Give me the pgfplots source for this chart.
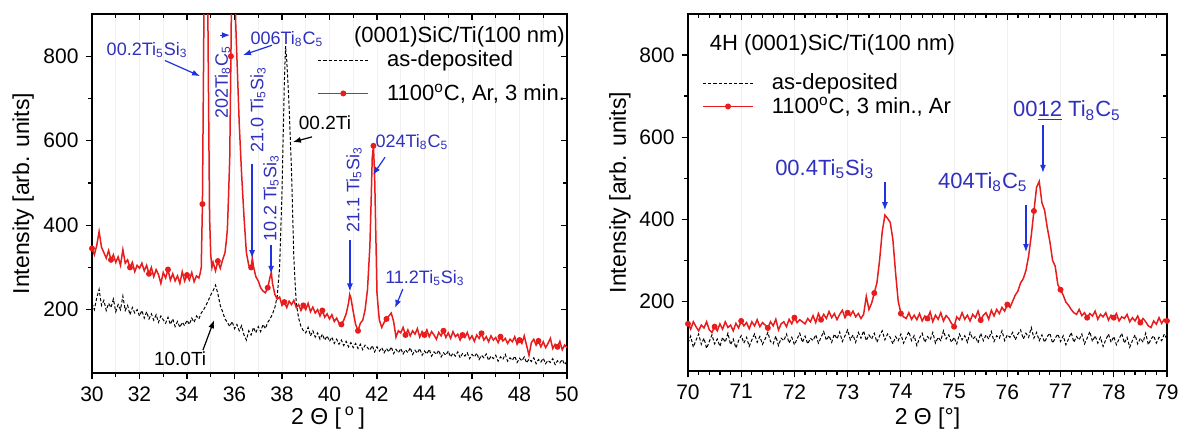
\documentclass[border=0pt]{standalone}
\usepackage{fontspec}
\setmainfont{Liberation Sans}
\usepackage{pgfplots}
\pgfplotsset{compat=1.18}
\usetikzlibrary{arrows.meta}

\definecolor{xred}{RGB}{232,28,28}
\definecolor{annot}{RGB}{48,48,190}
\definecolor{arrblue}{RGB}{30,50,225}

\tikzset{
  barrow/.style={arrblue, line width=0.6pt, -{Latex[length=4pt,width=3pt]}},
  karrow/.style={black, line width=0.6pt, -{Latex[length=4pt,width=3pt]}},
}
\pgfplotsset{
  xrd/.style={
    scale only axis,
    axis line style={line width=0.7pt},
    every tick/.style={black, line width=0.6pt},
    major tick length=3.2pt, minor tick length=1.8pt,
    tick align=outside, xtick pos=bottom, ytick pos=left,
    ytick={200,400,600,800}, minor y tick num=1,
    ticklabel style={font=\fontsize{10.5}{12}\selectfont},
    /pgf/number format/assume math mode=true,
    label style={font=\fontsize{11.5}{13}\selectfont},
    grid style={gray!12, line width=0.4pt},
    legend cell align=left,
    legend image code/.code={\draw[mark repeat=2,mark phase=2,##1] plot coordinates {(0pt,0pt) (12.5pt,0pt) (25pt,0pt)};},
  },
  xrdmirror/.style={
    scale only axis,
    axis line style={draw=none},
    every tick/.style={black, line width=0.6pt},
    major tick length=3.2pt, minor tick length=1.8pt,
    tick align=inside, xtick pos=top, ytick pos=right,
    xticklabel=\empty, yticklabel=\empty,
    ytick={200,400,600,800}, minor y tick num=1,
  },
  asdep/.style={black, line width=0.5pt, dash pattern=on 1.6pt off 1pt},
  annealed/.style={xred, line width=0.75pt, mark=*, mark size=1.1pt, mark options={solid, fill=xred, draw=xred}},
}

\begin{document}
\begin{tikzpicture}
\path[use as bounding box] (-46pt,-28.5pt) rectangle (546.5pt,186.5pt);

% left panel
\begin{axis}[xrd, width=237.5pt, height=179.5pt,
  xmin=30, xmax=50, ymin=50, ymax=900,
  xtick={30,32,...,50}, minor x tick num=1, xmajorgrids, xminorgrids,
  xlabel={2 Θ [\,\textsuperscript{o}\,]}, ylabel={Intensity [arb. units]},
  xlabel style={at={(axis description cs:0.497,0)}, anchor=center, yshift=-22.5pt},
  ylabel style={at={(axis description cs:-0.145,0.5)}, anchor=center},
  legend style={draw=none, fill=none, at={(axis description cs:0.474,0.904)}, anchor=north west,
    font=\fontsize{11}{13}\selectfont, inner sep=0pt, row sep=5pt, nodes={inner sep=1pt},
    /tikz/every odd column/.append style={column sep=8pt}},
]
\addplot[asdep] coordinates {
(30.0,215) (30.1,200) (30.2,228) (30.3,248) (30.4,210) (30.5,222) (30.6,198) (30.7,215) (30.8,205) (30.9,225)
(31.0,195) (31.1,212) (31.2,200) (31.3,232) (31.4,198) (31.5,210) (31.6,188) (31.7,205) (31.8,192) (31.9,200)
(32.0,185) (32.1,198) (32.2,180) (32.3,195) (32.4,178) (32.5,190) (32.6,175) (32.7,188) (32.8,170) (32.9,185)
(33.0,176) (33.1,168) (33.2,182) (33.3,165) (33.4,178) (33.5,160) (33.6,172) (33.7,158) (33.8,170) (33.9,162)
(34.0,175) (34.1,165) (34.2,180) (34.3,170) (34.4,185) (34.5,178) (34.6,192) (34.7,200) (34.8,210) (34.9,222)
(35.0,235) (35.1,245) (35.2,258) (35.3,238) (35.4,210) (35.5,195) (35.6,178) (35.7,170) (35.8,160) (35.9,172)
(36.0,155) (36.1,165) (36.2,150) (36.3,162) (36.4,140) (36.5,128) (36.6,150) (36.7,140) (36.8,158) (36.9,145)
(37.0,160) (37.1,148) (37.2,165) (37.3,155) (37.4,170) (37.5,178) (37.6,190) (37.7,205) (37.8,232) (37.9,300)
(38.0,480) (38.1,740) (38.15,824) (38.2,790) (38.3,680) (38.4,530) (38.5,320) (38.6,215) (38.7,180) (38.8,160) (38.9,150)
(39.0,145) (39.1,158) (39.2,138) (39.3,150) (39.4,135) (39.5,145) (39.6,130) (39.7,142) (39.8,128) (39.9,138)
(40.0,125) (40.1,135) (40.2,120) (40.3,130) (40.4,118) (40.5,128) (40.6,115) (40.7,125) (40.8,112) (40.9,122)
(41.0,110) (41.1,120) (41.2,108) (41.3,118) (41.4,105) (41.5,116) (41.6,110) (41.7,104) (41.8,115) (41.9,100)
(42.0,112) (42.1,102) (42.2,110) (42.3,98) (42.4,108) (42.5,100) (42.6,112) (42.7,96) (42.8,106) (42.9,98)
(43.0,108) (43.1,95) (43.2,105) (43.3,98) (43.4,110) (43.5,94) (43.6,104) (43.7,97) (43.8,108) (43.9,92)
(44.0,102) (44.1,95) (44.2,106) (44.3,90) (44.4,100) (44.5,94) (44.6,104) (44.7,88) (44.8,98) (44.9,92)
(45.0,102) (45.1,88) (45.2,97) (45.3,90) (45.4,100) (45.5,86) (45.6,96) (45.7,90) (45.8,98) (45.9,84)
(46.0,94) (46.1,88) (46.2,97) (46.3,82) (46.4,92) (46.5,86) (46.6,95) (46.7,80) (46.8,90) (46.9,84)
(47.0,92) (47.1,78) (47.2,88) (47.3,82) (47.4,94) (47.5,78) (47.6,86) (47.7,80) (47.8,90) (47.9,75)
(48.0,85) (48.1,79) (48.2,88) (48.3,74) (48.4,83) (48.5,77) (48.6,86) (48.7,72) (48.8,82) (48.9,76)
(49.0,85) (49.1,72) (49.2,80) (49.3,75) (49.4,84) (49.5,70) (49.6,79) (49.7,74) (49.8,82) (49.9,70) (50.0,78)
};
\addlegendentry{as-deposited}
\addplot[annealed, mark repeat=8] coordinates {
(30.0,345) (30.1,330) (30.2,352) (30.3,385) (30.4,348) (30.5,335) (30.6,322) (30.7,340) (30.8,318) (30.9,330)
(31.0,312) (31.1,325) (31.2,305) (31.3,342) (31.4,310) (31.5,318) (31.6,300) (31.7,312) (31.8,290) (31.9,305)
(32.0,298) (32.1,310) (32.2,292) (32.3,305) (32.4,285) (32.5,300) (32.6,278) (32.7,295) (32.8,283) (32.9,262)
(33.0,288) (33.1,275) (33.2,295) (33.3,270) (33.4,285) (33.5,268) (33.6,280) (33.7,262) (33.8,290) (33.9,268)
(34.0,282) (34.1,270) (34.2,288) (34.3,266) (34.4,280) (34.5,275) (34.55,285) (34.6,300) (34.65,450) (34.7,800)
(34.75,1200) (34.8,1300) (34.85,1100) (34.9,750) (34.95,420) (35.0,330) (35.05,300) (35.1,312) (35.2,292) (35.3,315)
(35.4,298) (35.5,318) (35.6,335) (35.65,360) (35.7,390) (35.75,470) (35.8,560) (35.85,800) (35.9,1100) (36.0,1200)
(36.05,880) (36.1,800) (36.2,640) (36.3,520) (36.4,420) (36.5,335) (36.6,305) (36.7,300) (36.75,322) (36.8,302)
(36.9,278) (37.0,268) (37.1,252) (37.2,244) (37.3,240) (37.4,252) (37.5,278) (37.55,288) (37.6,262) (37.7,236)
(37.8,225) (37.9,230) (38.0,210) (38.1,218) (38.2,205) (38.3,220) (38.4,212) (38.5,222) (38.6,205) (38.7,212)
(38.8,198) (38.9,210) (39.0,200) (39.1,215) (39.2,195) (39.3,206) (39.4,192) (39.5,200) (39.6,185) (39.7,198)
(39.8,182) (39.9,190) (40.0,178) (40.1,188) (40.2,172) (40.3,180) (40.4,168) (40.5,165) (40.6,175) (40.7,190)
(40.8,215) (40.85,236) (40.9,228) (41.0,195) (41.1,165) (41.2,150) (41.3,168) (41.4,175) (41.5,200) (41.6,248)
(41.7,350) (41.75,450) (41.8,560) (41.85,588) (41.9,520) (41.95,380) (42.0,240) (42.05,205) (42.1,175) (42.2,158)
(42.3,170) (42.4,178) (42.5,185) (42.6,192) (42.7,172) (42.8,135) (42.9,150) (43.0,145) (43.1,158) (43.2,140)
(43.3,152) (43.4,138) (43.5,150) (43.6,142) (43.7,155) (43.8,135) (43.9,148) (44.0,140) (44.1,152) (44.2,136)
(44.3,148) (44.4,140) (44.5,130) (44.6,146) (44.7,138) (44.8,150) (44.9,134) (45.0,145) (45.1,132) (45.2,148)
(45.3,136) (45.4,142) (45.5,128) (45.6,140) (45.7,134) (45.8,146) (45.9,130) (46.0,138) (46.1,125) (46.2,140)
(46.3,132) (46.4,144) (46.5,128) (46.6,136) (46.7,124) (46.8,138) (46.9,128) (47.0,134) (47.1,122) (47.2,136)
(47.3,126) (47.4,132) (47.5,120) (47.6,130) (47.7,124) (47.8,136) (47.9,118) (48.0,128) (48.1,120) (48.2,138)
(48.3,115) (48.4,92) (48.5,122) (48.6,130) (48.7,116) (48.8,126) (48.9,112) (49.0,124) (49.1,110) (49.2,120)
(49.3,132) (49.4,108) (49.5,118) (49.6,112) (49.7,125) (49.8,105) (49.9,116) (50.0,110)
};
\addlegendentry{1100\textsuperscript{o}C, Ar, 3 min.}

\node[anchor=west, font=\fontsize{11}{13}\selectfont] at (axis cs:40.74,845) {(0001)SiC/Ti(100 nm)};

\begin{scope}[font=\fontsize{9}{10}\selectfont, text=annot]
\node at (axis cs:32.32,815) {00.2Ti\textsubscript{5}Si\textsubscript{3}};
\draw[barrow] (axis cs:33.07,790) -- (axis cs:34.55,753);
\node[rotate=90] at (axis cs:35.50,738) {202Ti\textsubscript{8}C\textsubscript{5}};
\draw[barrow] (axis cs:35.39,850) -- (axis cs:35.81,850);
\node at (axis cs:38.21,841) {006Ti\textsubscript{8}C\textsubscript{5}};
\draw[barrow] (axis cs:37.58,826) -- (axis cs:36.36,803);
\node[rotate=90] at (axis cs:36.99,673) {21.0 Ti\textsubscript{5}Si\textsubscript{3}};
\draw[barrow] (axis cs:36.74,545) -- (axis cs:36.74,322);
\node[rotate=90] at (axis cs:37.54,464) {10.2 Ti\textsubscript{5}Si\textsubscript{3}};
\draw[barrow] (axis cs:37.54,353) -- (axis cs:37.54,285);
\node[rotate=90] at (axis cs:41.03,483) {21.1 Ti\textsubscript{5}Si\textsubscript{3}};
\draw[barrow] (axis cs:40.86,366) -- (axis cs:40.86,243);
\node at (axis cs:43.47,597) {024Ti\textsubscript{8}C\textsubscript{5}};
\draw[barrow] (axis cs:42.34,561) -- (axis cs:41.83,519);
\node at (axis cs:44.02,275) {11.2Ti\textsubscript{5}Si\textsubscript{3}};
\draw[barrow] (axis cs:43.09,249) -- (axis cs:42.76,204);
\end{scope}
\begin{scope}[font=\fontsize{9.5}{11}\selectfont]
\node at (axis cs:39.81,642) {00.2Ti};
\draw[karrow] (axis cs:39.26,609) -- (axis cs:38.46,597);
\node at (axis cs:33.71,85) {10.0Ti};
\draw[karrow] (axis cs:34.67,104) -- (axis cs:35.14,175);
\end{scope}
\end{axis}
\begin{axis}[xrdmirror, width=237.5pt, height=179.5pt,
  xmin=30, xmax=50, ymin=50, ymax=900,
  xtick={30,32,...,50}, minor x tick num=1]
\end{axis}

% right panel
\begin{axis}[xrd, at={(298pt,1pt)}, width=239.5pt, height=178.5pt,
  xmin=70, xmax=79, ymin=30, ymax=900,
  xtick={70,...,79}, minor x tick num=4, xmajorgrids,
  xlabel={2 Θ [°]}, ylabel={Intensity [arb. units]},
  xlabel style={at={(axis description cs:0.5,0)}, anchor=center, yshift=-24pt},
  ylabel style={at={(axis description cs:-0.142,0.5)}, anchor=center},
  legend style={draw=none, fill=none, at={(axis description cs:0.029,0.839)}, anchor=north west,
    font=\fontsize{11}{13}\selectfont, inner sep=0pt, row sep=0pt, nodes={inner sep=1pt},
    /tikz/every odd column/.append style={column sep=8pt}},
]
\addplot[asdep] coordinates {
(70.00,98) (70.05,115) (70.10,88) (70.15,105) (70.20,120) (70.25,95) (70.30,110) (70.35,85) (70.40,102) (70.45,118)
(70.50,96) (70.55,108) (70.60,90) (70.65,112) (70.70,100) (70.75,122) (70.80,94) (70.85,108) (70.90,86) (70.95,104)
(71.00,116) (71.05,98) (71.10,112) (71.15,90) (71.20,106) (71.25,120) (71.30,100) (71.35,114) (71.40,95) (71.45,108)
(71.50,124) (71.55,102) (71.60,96) (71.65,115) (71.70,92) (71.75,110) (71.80,104) (71.85,120) (71.90,98) (71.95,112)
(72.00,94) (72.05,108) (72.10,122) (72.15,100) (72.20,115) (72.25,96) (72.30,110) (72.35,104) (72.40,118) (72.45,98)
(72.50,112) (72.55,126) (72.60,105) (72.65,116) (72.70,100) (72.75,120) (72.80,108) (72.85,125) (72.90,102) (72.95,116)
(73.00,130) (73.05,106) (73.10,118) (73.15,100) (73.20,124) (73.25,110) (73.30,128) (73.35,104) (73.40,118) (73.45,108)
(73.50,122) (73.55,100) (73.60,116) (73.65,128) (73.70,106) (73.75,120) (73.80,112) (73.85,96) (73.90,114) (73.95,104)
(74.00,120) (74.05,98) (74.10,112) (74.15,126) (74.20,104) (74.25,116) (74.30,92) (74.35,110) (74.40,122) (74.45,100)
(74.50,114) (74.55,106) (74.60,124) (74.65,98) (74.70,112) (74.75,104) (74.80,128) (74.85,108) (74.90,118) (74.95,100)
(75.00,112) (75.05,96) (75.10,120) (75.15,106) (75.20,116) (75.25,100) (75.30,124) (75.35,108) (75.40,114) (75.45,98)
(75.50,122) (75.55,104) (75.60,118) (75.65,108) (75.70,126) (75.75,102) (75.80,116) (75.85,110) (75.90,128) (75.95,104)
(76.00,118) (76.05,112) (76.10,124) (76.15,106) (76.20,120) (76.25,130) (76.30,108) (76.35,122) (76.40,112) (76.45,136)
(76.50,110) (76.55,124) (76.60,104) (76.65,118) (76.70,100) (76.75,114) (76.80,122) (76.85,98) (76.90,110) (76.95,120)
(77.00,102) (77.05,116) (77.10,94) (77.15,108) (77.20,124) (77.25,100) (77.30,114) (77.35,106) (77.40,120) (77.45,96)
(77.50,110) (77.55,126) (77.60,102) (77.65,116) (77.70,98) (77.75,112) (77.80,90) (77.85,106) (77.90,120) (77.95,100)
(78.00,114) (78.05,94) (78.10,108) (78.15,122) (78.20,98) (78.25,112) (78.30,88) (78.35,104) (78.40,118) (78.45,96)
(78.50,110) (78.55,100) (78.60,122) (78.65,94) (78.70,108) (78.75,116) (78.80,98) (78.85,112) (78.90,104) (78.95,120) (79.00,108)
};
\addlegendentry{as-deposited}
\addplot[annealed, mark repeat=10] coordinates {
(70.00,145) (70.05,132) (70.10,150) (70.15,138) (70.20,128) (70.25,142) (70.30,135) (70.35,150) (70.40,130) (70.45,124)
(70.50,138) (70.55,128) (70.60,145) (70.65,132) (70.70,150) (70.75,136) (70.80,142) (70.85,128) (70.90,146) (70.95,135)
(71.00,152) (71.05,140) (71.10,148) (71.15,133) (71.20,150) (71.25,140) (71.30,155) (71.35,138) (71.40,148) (71.45,142)
(71.50,135) (71.55,150) (71.60,140) (71.65,156) (71.70,130) (71.75,145) (71.80,150) (71.85,138) (71.90,156) (71.95,145)
(72.00,160) (72.05,148) (72.10,155) (72.15,150) (72.20,145) (72.25,158) (72.30,150) (72.35,165) (72.40,148) (72.45,170)
(72.50,155) (72.55,168) (72.60,158) (72.65,175) (72.70,160) (72.75,170) (72.80,155) (72.85,168) (72.90,178) (72.95,160)
(73.00,172) (73.05,165) (73.10,176) (73.15,162) (73.20,170) (73.25,158) (73.30,168) (73.35,212) (73.40,180) (73.45,195)
(73.50,220) (73.55,245) (73.60,300) (73.65,370) (73.70,410) (73.75,402) (73.80,392) (73.85,350) (73.90,270) (73.95,200)
(74.00,170) (74.05,162) (74.10,158) (74.15,172) (74.20,156) (74.25,166) (74.30,155) (74.35,170) (74.40,152) (74.45,164)
(74.50,158) (74.55,174) (74.60,150) (74.65,166) (74.70,156) (74.75,172) (74.80,152) (74.85,165) (74.90,158) (74.95,146)
(75.00,138) (75.05,162) (75.10,155) (75.15,172) (75.20,156) (75.25,166) (75.30,152) (75.35,168) (75.40,160) (75.45,176)
(75.50,154) (75.55,166) (75.60,172) (75.65,156) (75.70,178) (75.75,164) (75.80,180) (75.85,170) (75.90,185) (75.95,176)
(76.00,192) (76.05,185) (76.10,200) (76.15,215) (76.20,225) (76.25,245) (76.30,255) (76.35,275) (76.40,310) (76.45,360)
(76.50,420) (76.55,478) (76.60,492) (76.65,440) (76.70,422) (76.75,380) (76.80,345) (76.85,300) (76.90,285) (76.95,240)
(77.00,228) (77.05,215) (77.10,198) (77.15,190) (77.20,180) (77.25,172) (77.30,168) (77.35,180) (77.40,165) (77.45,172)
(77.50,160) (77.55,170) (77.60,164) (77.65,176) (77.70,156) (77.75,168) (77.80,162) (77.85,172) (77.90,154) (77.95,166)
(78.00,160) (78.05,170) (78.10,152) (78.15,162) (78.20,158) (78.25,168) (78.30,150) (78.35,160) (78.40,152) (78.45,164)
(78.50,148) (78.55,158) (78.60,150) (78.65,140) (78.70,136) (78.75,152) (78.80,144) (78.85,160) (78.90,146) (78.95,156) (79.00,152)
};
\addlegendentry{1100\textsuperscript{o}C, 3 min., Ar}

\node[anchor=west, font=\fontsize{11}{13}\selectfont] at (axis cs:70.28,825) {4H (0001)SiC/Ti(100 nm)};

\begin{scope}[font=\fontsize{11}{13}\selectfont, text=annot]
\node at (axis cs:72.57,522) {00.4Ti\textsubscript{5}Si\textsubscript{3}};
\draw[barrow] (axis cs:73.70,490) -- (axis cs:73.70,422);
\node at (axis cs:77.12,664) {00\underline{12} Ti\textsubscript{8}C\textsubscript{5}};
\draw[barrow] (axis cs:76.67,630) -- (axis cs:76.67,513);
\node at (axis cs:75.54,491) {404Ti\textsubscript{8}C\textsubscript{5}};
\draw[barrow] (axis cs:76.35,435) -- (axis cs:76.35,320);
\end{scope}
\end{axis}
\begin{axis}[xrdmirror, at={(298pt,1pt)}, width=239.5pt, height=178.5pt,
  xmin=70, xmax=79, ymin=30, ymax=900,
  xtick={70,...,79}, minor x tick num=4]
\end{axis}
\end{tikzpicture}
\end{document}
